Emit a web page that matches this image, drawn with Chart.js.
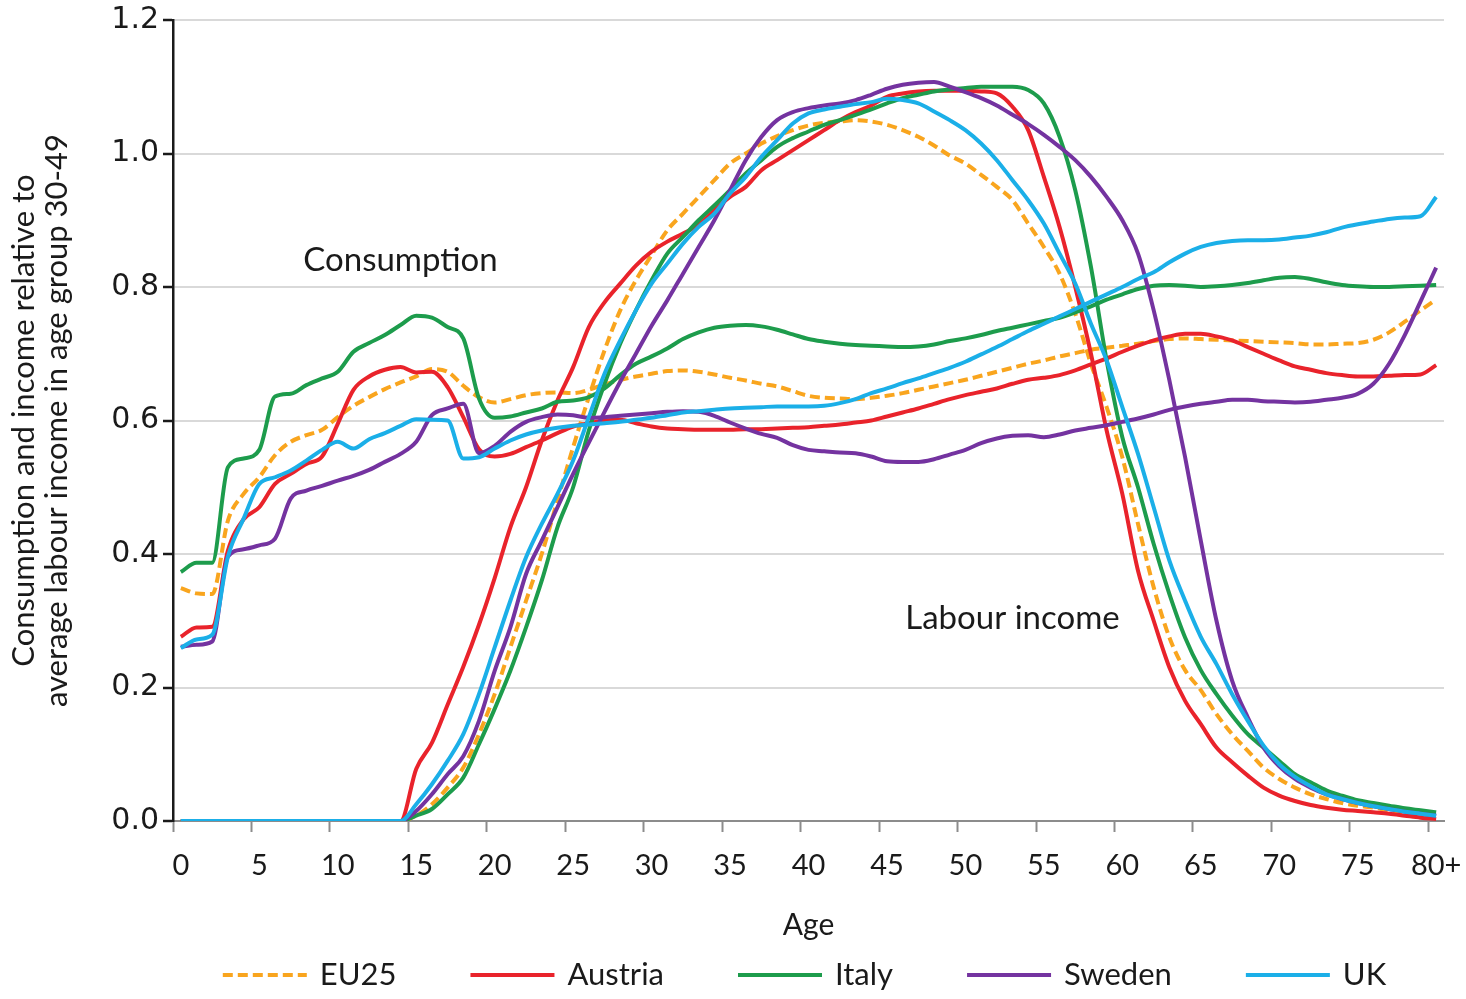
<!DOCTYPE html>
<html>
<head>
<meta charset="utf-8">
<title>Consumption and labour income by age</title>
<script src="https://cdn.jsdelivr.net/npm/chart.js@4.4.1/dist/chart.umd.min.js"></script>
<style>
  html, body { margin: 0; padding: 0; background: #ffffff; }
  #wrap { width: 1466px; height: 999px; position: relative; }
</style>
</head>
<body>
<div id="wrap"><canvas id="chart"></canvas></div>
<script>
// Age categories (single years, last one open-ended)
const ageLabels = ['0','1','2','3','4','5','6','7','8','9',
  '10','11','12','13','14','15','16','17','18','19',
  '20','21','22','23','24','25','26','27','28','29',
  '30','31','32','33','34','35','36','37','38','39',
  '40','41','42','43','44','45','46','47','48','49',
  '50','51','52','53','54','55','56','57','58','59',
  '60','61','62','63','64','65','66','67','68','69',
  '70','71','72','73','74','75','76','77','78','79',
  '80+'];

const countries = ['EU25', 'Austria', 'Italy', 'Sweden', 'UK'];

// Consumption relative to average labour income at ages 30-49
const eu25Consumption = [
  0.349,0.341,0.340,0.450,0.490,0.515,0.548,0.568,0.578,0.586,
  0.605,0.622,0.635,0.647,0.657,0.666,0.677,0.673,0.652,0.635,
  0.627,0.632,0.638,0.641,0.642,0.641,0.646,0.654,0.661,0.666,
  0.670,0.674,0.675,0.673,0.669,0.664,0.660,0.655,0.651,0.644,
  0.637,0.634,0.633,0.632,0.634,0.637,0.641,0.646,0.651,0.656,
  0.661,0.667,0.673,0.679,0.685,0.690,0.696,0.701,0.706,0.709,
  0.712,0.715,0.719,0.722,0.723,0.722,0.721,0.720,0.719,0.718,
  0.717,0.716,0.714,0.714,0.715,0.716,0.721,0.732,0.748,0.765,
  0.781];
const austriaConsumption = [
  0.276,0.290,0.291,0.405,0.452,0.470,0.505,0.520,0.535,0.546,
  0.595,0.646,0.666,0.676,0.680,0.672,0.673,0.650,0.605,0.557,
  0.546,0.550,0.560,0.570,0.581,0.591,0.596,0.600,0.601,0.596,
  0.591,0.588,0.587,0.586,0.586,0.586,0.587,0.587,0.588,0.589,
  0.590,0.592,0.594,0.597,0.600,0.606,0.612,0.618,0.625,0.632,
  0.638,0.643,0.648,0.655,0.661,0.664,0.668,0.675,0.684,0.693,
  0.703,0.712,0.720,0.726,0.730,0.730,0.726,0.720,0.710,0.700,
  0.690,0.681,0.676,0.671,0.668,0.666,0.666,0.667,0.668,0.669,
  0.683];
const italyConsumption = [
  0.373,0.387,0.387,0.530,0.543,0.556,0.636,0.640,0.653,0.663,
  0.673,0.703,0.716,0.728,0.743,0.757,0.754,0.740,0.723,0.633,
  0.604,0.606,0.612,0.618,0.628,0.630,0.635,0.648,0.668,0.685,
  0.696,0.708,0.722,0.732,0.739,0.742,0.743,0.741,0.736,0.729,
  0.722,0.718,0.715,0.713,0.712,0.711,0.710,0.711,0.714,0.719,
  0.723,0.728,0.734,0.739,0.744,0.749,0.754,0.762,0.771,0.781,
  0.789,0.797,0.802,0.803,0.802,0.800,0.801,0.803,0.806,0.810,
  0.814,0.815,0.812,0.807,0.803,0.801,0.800,0.800,0.801,0.802,
  0.803];
const swedenConsumption = [
  0.261,0.264,0.269,0.396,0.407,0.413,0.423,0.483,0.495,0.502,
  0.510,0.517,0.526,0.538,0.550,0.568,0.608,0.618,0.625,0.551,
  0.562,0.583,0.598,0.605,0.609,0.608,0.604,0.605,0.607,0.609,
  0.611,0.613,0.614,0.613,0.607,0.597,0.588,0.580,0.574,0.563,
  0.556,0.554,0.552,0.551,0.546,0.539,0.538,0.538,0.542,0.549,
  0.556,0.566,0.573,0.577,0.578,0.575,0.579,0.585,0.589,0.593,
  0.598,0.603,0.609,0.616,0.621,0.625,0.628,0.631,0.631,0.629,
  0.628,0.627,0.628,0.631,0.634,0.640,0.655,0.685,0.728,0.778,
  0.829];
const ukConsumption = [
  0.259,0.272,0.279,0.396,0.453,0.505,0.515,0.525,0.540,0.556,
  0.568,0.558,0.572,0.581,0.592,0.602,0.601,0.600,0.543,0.545,
  0.558,0.570,0.579,0.585,0.589,0.592,0.594,0.596,0.598,0.601,
  0.604,0.608,0.612,0.614,0.616,0.618,0.619,0.620,0.621,0.621,
  0.621,0.622,0.626,0.632,0.641,0.648,0.656,0.663,0.671,0.679,
  0.688,0.699,0.710,0.722,0.734,0.745,0.756,0.767,0.778,0.789,
  0.800,0.812,0.822,0.837,0.850,0.860,0.866,0.869,0.870,0.870,
  0.871,0.874,0.877,0.882,0.889,0.894,0.898,0.902,0.904,0.906,
  0.935];

// Labour income relative to average labour income at ages 30-49
const eu25Labour = [
  0,0,0,0,0,0,0,0,0,0,
  0,0,0,0,0,0.008,0.025,0.050,0.080,0.130,
  0.190,0.260,0.330,0.400,0.480,0.560,0.635,0.705,0.765,0.810,
  0.848,0.885,0.910,0.935,0.960,0.985,1.000,1.015,1.026,1.035,
  1.042,1.046,1.048,1.050,1.048,1.043,1.035,1.025,1.012,0.997,
  0.985,0.968,0.950,0.930,0.895,0.860,0.820,0.760,0.685,0.620,
  0.545,0.445,0.350,0.275,0.226,0.196,0.160,0.130,0.105,0.080,
  0.063,0.050,0.040,0.033,0.027,0.023,0.020,0.016,0.013,0.010,
  0.008];
const austriaLabour = [
  0,0,0,0,0,0,0,0,0,0,
  0,0,0,0,0,0.078,0.117,0.174,0.231,0.294,
  0.364,0.440,0.500,0.570,0.630,0.680,0.740,0.777,0.805,0.832,
  0.853,0.868,0.880,0.893,0.915,0.935,0.950,0.975,0.990,1.005,
  1.020,1.035,1.050,1.062,1.072,1.085,1.090,1.093,1.094,1.094,
  1.094,1.093,1.090,1.070,1.035,0.965,0.890,0.800,0.700,0.585,
  0.490,0.375,0.300,0.230,0.180,0.145,0.110,0.088,0.068,0.050,
  0.038,0.030,0.024,0.020,0.017,0.015,0.013,0.011,0.008,0.005,
  0.003];
const italyLabour = [
  0,0,0,0,0,0,0,0,0,0,
  0,0,0,0,0,0.008,0.018,0.040,0.065,0.115,
  0.168,0.225,0.290,0.360,0.440,0.500,0.585,0.655,0.715,0.765,
  0.810,0.850,0.875,0.900,0.922,0.945,0.970,0.990,1.010,1.023,
  1.033,1.043,1.050,1.058,1.066,1.075,1.083,1.088,1.093,1.096,
  1.098,1.100,1.100,1.100,1.095,1.075,1.025,0.945,0.830,0.690,
  0.575,0.500,0.415,0.340,0.275,0.226,0.190,0.158,0.130,0.110,
  0.090,0.070,0.058,0.046,0.038,0.031,0.027,0.023,0.019,0.016,
  0.013];
const swedenLabour = [
  0,0,0,0,0,0,0,0,0,0,
  0,0,0,0,0,0.015,0.040,0.070,0.097,0.150,
  0.225,0.290,0.370,0.420,0.470,0.520,0.567,0.613,0.658,0.700,
  0.742,0.780,0.820,0.860,0.900,0.945,0.990,1.025,1.050,1.062,
  1.068,1.072,1.075,1.080,1.088,1.097,1.103,1.106,1.107,1.100,
  1.092,1.083,1.072,1.058,1.044,1.028,1.010,0.990,0.965,0.935,
  0.900,0.850,0.765,0.660,0.545,0.420,0.300,0.210,0.155,0.110,
  0.082,0.063,0.050,0.040,0.033,0.027,0.022,0.018,0.014,0.011,
  0.008];
const ukLabour = [
  0,0,0,0,0,0,0,0,0,0,
  0,0,0,0,0,0.025,0.055,0.090,0.130,0.190,
  0.260,0.330,0.395,0.445,0.490,0.540,0.605,0.670,0.720,0.765,
  0.805,0.835,0.865,0.890,0.910,0.940,0.965,0.995,1.020,1.045,
  1.060,1.066,1.070,1.074,1.077,1.082,1.080,1.075,1.063,1.050,
  1.035,1.015,0.990,0.960,0.930,0.895,0.850,0.805,0.745,0.690,
  0.620,0.550,0.470,0.390,0.330,0.276,0.235,0.190,0.150,0.113,
  0.085,0.066,0.052,0.040,0.033,0.027,0.022,0.018,0.014,0.011,
  0.008];

const consumptionSeries = [eu25Consumption, austriaConsumption, italyConsumption, swedenConsumption, ukConsumption];
const labourSeries = [eu25Labour, austriaLabour, italyLabour, swedenLabour, ukLabour];

// Series styling
const seriesColors = ['#F9A51E', '#E9232B', '#1D9C4C', '#7433A0', '#1BAFE8'];
const seriesDashes = [[10, 5], [], [], [], []];
const textColor = '#1a1a1a';

// In-plot captions: [text, age index of centre, value of centre]
const captions = [
  { text: 'Consumption', age: 14, value: 0.84 },
  { text: 'Labour income', age: 53, value: 0.303 }
];

const datasets = [];
countries.forEach((name, i) => {
  const style = {
    borderColor: seriesColors[i],
    backgroundColor: seriesColors[i],
    borderDash: seriesDashes[i],
    borderWidth: 4,
    pointRadius: 0,
    fill: false,
    order: countries.length - i
  };
  datasets.push(Object.assign({ label: name + ' consumption', data: consumptionSeries[i] }, style));
  datasets.push(Object.assign({ label: name + ' labour income', data: labourSeries[i] }, style));
});

// Draws the two captions and the line-sample legend under the axis
const overlayPlugin = {
  id: 'overlay',
  afterDraw(chart) {
    const { ctx, chartArea, scales } = chart;
    const xs = scales.x, ys = scales.y;
    ctx.save();
    ctx.fillStyle = textColor;
    ctx.font = '33px Lato, "Open Sans", sans-serif';
    ctx.textAlign = 'center';
    ctx.textBaseline = 'middle';
    captions.forEach(c => {
      ctx.fillText(c.text, xs.getPixelForValue(c.age), ys.getPixelForValue(c.value));
    });

    ctx.font = '31px Lato, "Open Sans", sans-serif';
    const sampleLen = 84, gap = 13, spacing = 74;
    const widths = countries.map(n => sampleLen + gap + ctx.measureText(n).width);
    const total = widths.reduce((a, b) => a + b, 0) + spacing * (countries.length - 1);
    let x = (chartArea.left + chartArea.right) / 2 - total / 2 - 4;
    const y = 975;
    countries.forEach((n, i) => {
      ctx.beginPath();
      ctx.setLineDash(seriesDashes[i]);
      ctx.strokeStyle = seriesColors[i];
      ctx.lineWidth = 4;
      ctx.lineCap = 'butt';
      ctx.moveTo(x, y);
      ctx.lineTo(x + sampleLen, y);
      ctx.stroke();
      ctx.setLineDash([]);
      ctx.textAlign = 'left';
      ctx.fillText(n, x + sampleLen + gap, y);
      x += widths[i] + spacing;
    });
    ctx.restore();
  }
};

new Chart(document.getElementById('chart'), {
  type: 'line',
  data: { labels: ageLabels, datasets },
  options: {
    responsive: true,
    maintainAspectRatio: false,
    animation: false,
    layout: { padding: { left: 0, right: 22, top: 20, bottom: 53 } },
    elements: { line: { cubicInterpolationMode: 'monotone' }, point: { radius: 0 } },
    plugins: { legend: { display: false }, tooltip: { enabled: false } },
    scales: {
      x: {
        type: 'category',
        offset: true,
        grid: {
          offset: true,
          drawOnChartArea: false,
          tickLength: 11,
          tickWidth: 2,
          tickColor: c => (c.index % 5 === 0 && c.index < ageLabels.length) ? '#8c8c8c' : 'rgba(0,0,0,0)'
        },
        border: { color: '#8c8c8c', width: 2 },
        ticks: {
          autoSkip: false,
          maxRotation: 0,
          minRotation: 0,
          padding: 16,
          color: textColor,
          font: { family: 'Lato, "Open Sans", sans-serif', size: 29 },
          callback: (v, i) => (i % 5 === 0 ? ageLabels[i] : '')
        },
        title: {
          display: true,
          text: 'Age',
          color: textColor,
          font: { family: 'Lato, "Open Sans", sans-serif', size: 30 },
          padding: { top: 0, bottom: 3 }
        },
        afterFit(scale) {
          scale.height = 125;
          scale.paddingLeft = 0;
          scale.paddingRight = 0;
        }
      },
      y: {
        min: 0,
        max: 1.2,
        grid: { color: '#d9d9d9', lineWidth: 2, tickLength: 10, tickColor: textColor, tickWidth: 2.5 },
        border: { color: textColor, width: 2.5 },
        ticks: {
          stepSize: 0.2,
          padding: 4,
          color: textColor,
          font: { family: '"DejaVu Sans", sans-serif', size: 30 },
          callback: v => Number(v).toFixed(1)
        },
        title: {
          display: true,
          text: ['Consumption and income relative to', 'average labour income in age group 30-49'],
          color: textColor,
          font: { family: 'Lato, "Open Sans", sans-serif', size: 31, lineHeight: 1.065 },
          padding: { top: 7, bottom: 0 }
        },
        afterFit(scale) {
          scale.width = 173;
          scale.paddingTop = 0;
          scale.paddingBottom = 0;
        }
      }
    }
  },
  plugins: [overlayPlugin]
});
</script>
</body>
</html>
